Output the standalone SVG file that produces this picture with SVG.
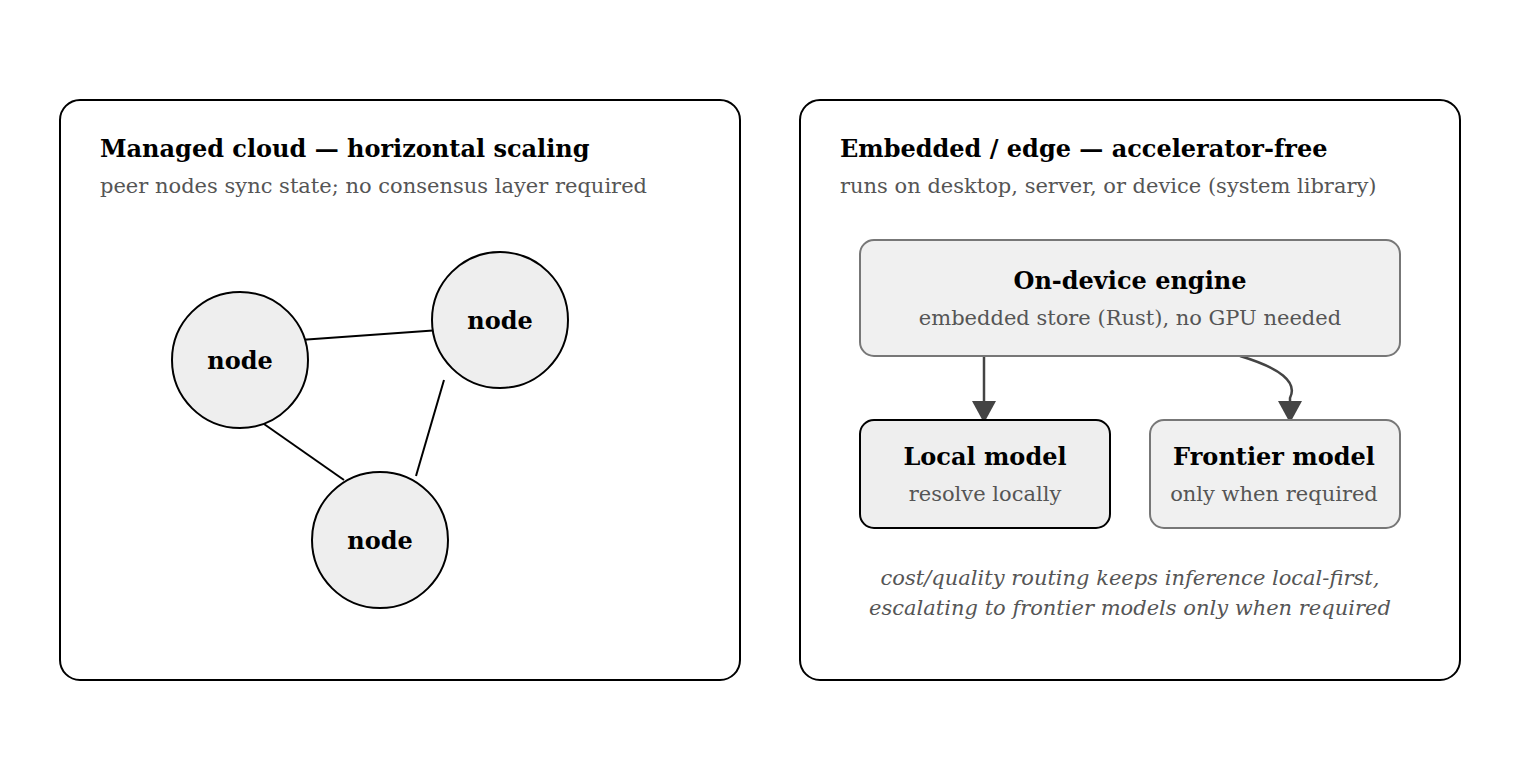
<svg xmlns="http://www.w3.org/2000/svg" width="1520" height="760" viewBox="0 0 1520 760">
<style>
text{font-family:"DejaVu Serif",serif}
.t{font-size:24px;font-weight:bold;fill:#000}
.s{font-size:21px;fill:#555}
.i{font-size:21px;fill:#555;font-style:italic}
.panel{fill:#fff;stroke:#000;stroke-width:2}
.c{fill:#eee;stroke:#000;stroke-width:2}
.e{stroke:#000;stroke-width:2;fill:none}
.a{stroke:#444;stroke-width:2.5;fill:none;marker-end:url(#ah)}
</style>
<defs><marker id="ah" markerWidth="24" markerHeight="24" viewBox="0 0 24 24" refX="22" refY="12" orient="auto" markerUnits="userSpaceOnUse"><path d="M0,0 L22,12 L0,24 z" fill="#444"/></marker></defs>
<rect width="1520" height="760" fill="#fff"/>
<g id="panel-cloud"><rect class="panel" x="60" y="100" width="680" height="580" rx="20"/>
<text class="t" x="100" y="157">Managed cloud — horizontal scaling</text>
<text class="s" x="100" y="193">peer nodes sync state; no consensus layer required</text></g>
<g id="panel-edge"><rect class="panel" x="800" y="100" width="660" height="580" rx="20"/>
<text class="t" x="840" y="157">Embedded / edge — accelerator-free</text>
<text class="s" x="840" y="193">runs on desktop, server, or device (system library)</text>
<text class="i" x="1130" y="585" text-anchor="middle">cost/quality routing keeps inference local-first,</text>
<text class="i" x="1130" y="615" text-anchor="middle">escalating to frontier models only when required</text></g>
<g id="connectors">
<line class="e" x1="300" y1="340" x2="440" y2="330"/>
<line class="e" x1="264" y1="424" x2="344" y2="480"/>
<line class="e" x1="444" y1="380" x2="416" y2="476"/>
<path class="a" d="M984,356 L984,423"/>
<path class="a" d="M1240,356 C1280,368 1298,382 1290,398 L1290,423"/>
</g>
<g id="node1"><circle class="c" cx="240" cy="360" r="68"/><text class="t" x="240" y="369" text-anchor="middle">node</text></g>
<g id="node2"><circle class="c" cx="500" cy="320" r="68"/><text class="t" x="500" y="329" text-anchor="middle">node</text></g>
<g id="node3"><circle class="c" cx="380" cy="540" r="68"/><text class="t" x="380" y="549" text-anchor="middle">node</text></g>
<g id="engine"><rect x="860" y="240" width="540" height="116" rx="14" fill="#f0f0f0" stroke="#777" stroke-width="2"/>
<text class="t" x="1130" y="289" text-anchor="middle">On-device engine</text>
<text class="s" x="1130" y="325" text-anchor="middle">embedded store (Rust), no GPU needed</text></g>
<g id="local"><rect x="860" y="420" width="250" height="108" rx="14" fill="#eee" stroke="#000" stroke-width="2"/>
<text class="t" x="985" y="465" text-anchor="middle">Local model</text>
<text class="s" x="985" y="501" text-anchor="middle">resolve locally</text></g>
<g id="frontier"><rect x="1150" y="420" width="250" height="108" rx="14" fill="#f0f0f0" stroke="#777" stroke-width="2"/>
<text class="t" x="1274" y="465" text-anchor="middle">Frontier model</text>
<text class="s" x="1274" y="501" text-anchor="middle">only when required</text></g>
</svg>
